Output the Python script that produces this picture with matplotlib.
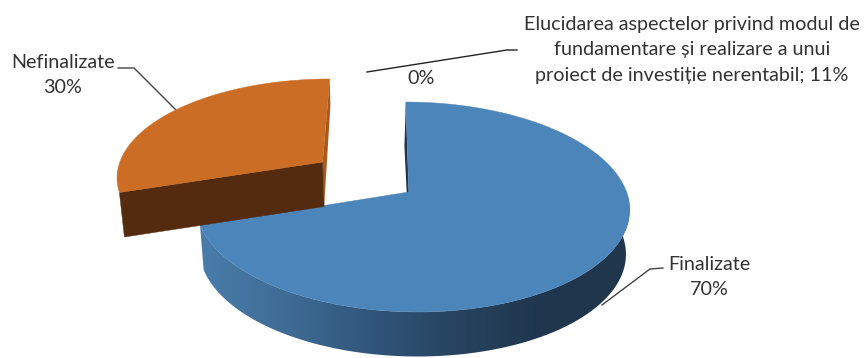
import numpy as np
import matplotlib
matplotlib.use("Agg")
import matplotlib.pyplot as plt
from matplotlib.colors import LinearSegmentedColormap
from matplotlib.patches import Polygon

# Data
categories = ["Finalizate", "Nefinalizate", "Elucidarea"]
values = [70, 30, 0]
label_texts = ["Finalizate\n70%", "Nefinalizate\n30%",
               "Elucidarea aspectelor privind modul de\nfundamentare și realizare a unui\nproiect de investiție nerentabil; 11%"]
zero_label = "0%"

# Projection of the 3-D disc to image pixels
X0, Y0, KX, BY, C = 411.8, 192.0, 214.7, -75.4, 0.1429
SHEAR, APEX_SHIFT, DEPTH, LOWER_SCALE = 6.0, 3.0, 44.5, 0.983
EXPLODE = {1: (-0.41, 0.304)}


def project(u, v, eu=0.0, ev=0.0, lower=False):
    u, v = np.asarray(u, float), np.asarray(v, float)
    r = np.hypot(u, v)
    U, V = u + eu, v + ev
    w = 1 + C * V
    x = X0 + KX * U / w - SHEAR * V - APEX_SHIFT * (1 - np.clip(r, 0, 1))
    y = (Y0 + BY * V) / w
    if lower:
        y = y + DEPTH
        x = X0 + (x - X0) * LOWER_SCALE
    return x, y


def rim(a0, a1, n=160):
    t = np.radians(np.linspace(a0, a1, n))
    return np.sin(t), np.cos(t)


def sector(a0, a1, eu=0.0, ev=0.0):
    u, v = rim(a0, a1)
    x, y = project(u, v, eu, ev)
    ax_, ay_ = project(0.0, 0.0, eu, ev)
    return np.vstack([np.column_stack([x, y]), [[ax_, ay_]]])


plt.rcParams["font.family"] = ["Lato", "DejaVu Sans"]
fig = plt.figure(figsize=(8.64, 3.58), dpi=100)
ax = fig.add_axes([0, 0, 1, 1])

edges = np.concatenate([[0], np.cumsum(values)]) * 360.0 / sum(values)
BLUE, BLUE_DARK = "#4C85BA", "#1F364C"
ORANGE, ORANGE_SIDE, ORANGE_DARK = "#CC6D26", "#A85A1E", "#542B0F"
side_cmap = LinearSegmentedColormap.from_list(
    "side", ["#4A7DAB", "#3F6C95", "#30557A", "#27435F", "#1F364C", "#1F364C"])

# Blue slice: outer wall as a horizontal gradient clipped to the wall outline
a0, a1 = edges[0], edges[1]
us, vs = rim(75, a1, 260)
xt, yt = project(us, vs)
xb, yb = project(us, vs, lower=True)
wall = Polygon(np.column_stack([np.r_[xt, xb[::-1]], np.r_[yt, yb[::-1]]]),
               closed=True, fc="none", ec="none", transform=ax.transData)
ax.add_patch(wall)
grad = ax.imshow(np.linspace(0, 1, 256)[None, :], cmap=side_cmap, aspect="auto",
                 extent=(200, 632, 360, 190), zorder=2, interpolation="bilinear")
grad.set_clip_path(wall)

# Blue slice: inner wall, top
tx, ty = project(0.0, 1.0)
bx, by = project(0.0, 1.0, lower=True)
cx, cy = project(0.0, 0.0)
lx, ly = project(0.0, 0.0, lower=True)
ax.add_patch(Polygon([[tx, ty], [bx - 1.5, by], [lx, ly], [cx, cy]], closed=True,
                     fc=BLUE_DARK, ec="none", zorder=2))
ax.add_patch(Polygon(sector(a0, a1), closed=True, fc=BLUE, ec=BLUE, lw=0.3, zorder=3))

# Orange slice (exploded): inner wall, cut wall, top
eu, ev = EXPLODE[1]
a0, a1 = edges[1], edges[2]
u0, v0 = rim(a0, a0, 1)
u1, v1 = rim(a1, a1, 1)
cx, cy = project(0.0, 0.0, eu, ev)
lx, ly = project(0.0, 0.0, eu, ev, lower=True)
x0, y0 = project(u0[0], v0[0], eu, ev)
x0b, y0b = project(u0[0], v0[0], eu, ev, lower=True)
x1, y1 = project(u1[0], v1[0], eu, ev)
ax.add_patch(Polygon([[x1, y1], [x1 + 0.6, y1 + 27], [lx, ly], [cx, cy]], closed=True,
                     fc=ORANGE_SIDE, ec="none", zorder=4))
ax.add_patch(Polygon([[x0, y0], [x0b, y0b], [lx, ly], [cx, cy]], closed=True,
                     fc=ORANGE_DARK, ec=ORANGE_DARK, lw=0.3, zorder=4))
ax.add_patch(Polygon(sector(a0, a1, eu, ev), closed=True, fc=ORANGE, ec=ORANGE, lw=0.3, zorder=5))

# Leader lines
LEAD = "#444444"
ax.plot([118, 134, 176], [68, 68, 110], color=LEAD, lw=1.0, zorder=1, solid_joinstyle="miter")
ax.plot([663, 650, 602], [268, 269, 305], color=LEAD, lw=1.0, zorder=6)
ax.plot([367, 507, 517], [72, 50, 50], color="#222222", lw=1.0, zorder=1)

# Labels
TXT = "#333333"
FS = 14.2
LS = 1.6
ax.text(709, 277, label_texts[0], ha="center", va="center", fontsize=FS, color=TXT, linespacing=LS)
ax.text(63, 75, label_texts[1], ha="center", va="center", fontsize=FS, color=TXT, linespacing=LS)
ax.text(692, 50, label_texts[2], ha="center", va="center", fontsize=FS, color=TXT, linespacing=LS)
ax.text(421, 79, zero_label, ha="center", va="center", fontsize=FS, color=TXT)

ax.set_xlim(0, 864)
ax.set_ylim(358, 0)
ax.axis("off")

fig.savefig("out.png", dpi=100)
